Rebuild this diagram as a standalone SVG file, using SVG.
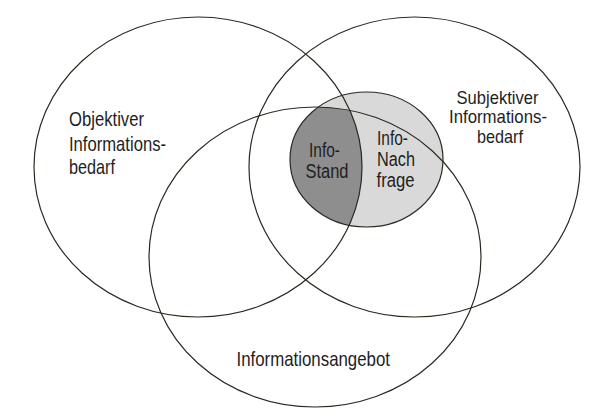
<svg xmlns="http://www.w3.org/2000/svg" width="606" height="419" viewBox="0 0 606 419">
<style>
.ring{fill:none;stroke:#2a2a20;stroke-width:1.2}
.lbl{font-family:"Liberation Sans",Arial,sans-serif;font-size:21px;fill:#1e1e1e}
.sm{font-size:20px}
.tight{font-size:19px}
</style>
<defs>
<clipPath id="clipLeft"><ellipse cx="198" cy="167" rx="164" ry="150"/></clipPath>
<clipPath id="clipBottom"><ellipse cx="315" cy="257" rx="166" ry="150"/></clipPath>
</defs>
<rect width="606" height="419" fill="#fff"/>
<g id="shading">
<ellipse cx="366.5" cy="159.5" rx="76.5" ry="67.5" fill="#d9d9d9"/>
<g clip-path="url(#clipLeft)">
<ellipse cx="366.5" cy="159.5" rx="76.5" ry="67.5" fill="#8e8e8e" clip-path="url(#clipBottom)"/>
</g>
</g>
<g id="connectors"></g>
<g id="objektiv">
<ellipse class="ring" cx="198" cy="167" rx="164" ry="150"/>
<text class="lbl" x="69" y="125.5" textLength="75" lengthAdjust="spacingAndGlyphs">Objektiver</text>
<text class="lbl" x="69" y="151" textLength="97" lengthAdjust="spacingAndGlyphs">Informations-</text>
<text class="lbl" x="69" y="174" textLength="46" lengthAdjust="spacingAndGlyphs">bedarf</text>
</g>
<g id="subjektiv">
<ellipse class="ring" cx="414.5" cy="167" rx="165.5" ry="150"/>
<text class="lbl tight" x="456.5" y="103.5" textLength="82" lengthAdjust="spacingAndGlyphs">Subjektiver</text>
<text class="lbl tight" x="449" y="123" textLength="98" lengthAdjust="spacingAndGlyphs">Informations-</text>
<text class="lbl tight" x="477" y="143" textLength="46" lengthAdjust="spacingAndGlyphs">bedarf</text>
</g>
<g id="angebot">
<ellipse class="ring" cx="315" cy="257" rx="166" ry="150"/>
<text class="lbl" x="236.5" y="366" textLength="153.5" lengthAdjust="spacingAndGlyphs">Informationsangebot</text>
</g>
<g id="nachfrage">
<ellipse class="ring" cx="366.5" cy="159.5" rx="76.5" ry="67.5"/>
<text class="lbl sm" x="377" y="145" textLength="31" lengthAdjust="spacingAndGlyphs">Info-</text>
<text class="lbl sm" x="377" y="166" textLength="38" lengthAdjust="spacingAndGlyphs">Nach</text>
<text class="lbl sm" x="376.5" y="186.5" textLength="38" lengthAdjust="spacingAndGlyphs">frage</text>
</g>
<g id="stand">
<text class="lbl sm" x="309" y="156.5" textLength="31" lengthAdjust="spacingAndGlyphs">Info-</text>
<text class="lbl sm" x="305.5" y="177.5" textLength="43" lengthAdjust="spacingAndGlyphs">Stand</text>
</g>
</svg>
